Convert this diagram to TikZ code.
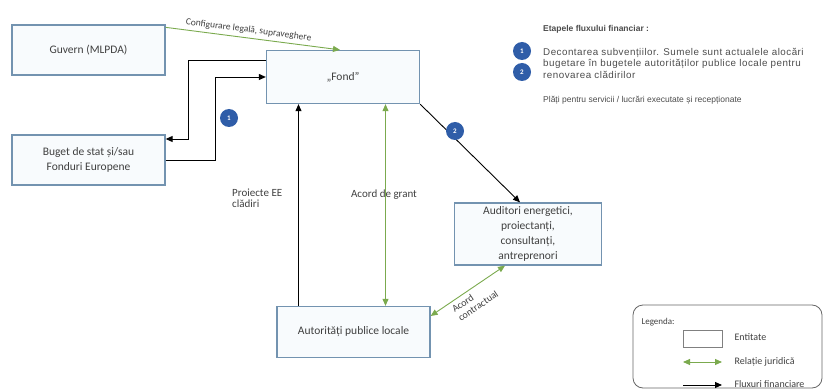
\documentclass[tikz,border=0pt]{standalone}
\usepackage{fontspec}
\setmainfont{Carlito}
\newfontfamily\arialfont{Liberation Sans}
\newfontfamily\arialwide[LetterSpace=5]{Liberation Sans}
\usetikzlibrary{arrows.meta, positioning, calc}

\definecolor{boxblue}{HTML}{7393B0}
\definecolor{boxfill}{HTML}{F8FBFD}
\definecolor{jurgreen}{HTML}{7BAA4E}
\definecolor{badgeblue}{HTML}{2F5DA8}

\begin{document}
\begin{tikzpicture}[x=1pt, y=-1pt, >={Triangle[length=7pt, width=6pt]},
  entity/.style={draw=boxblue, fill=boxfill, line width=1.3pt,
                 minimum width=153pt, minimum height=50pt, align=center,
                 font=\fontsize{11.5}{15}\selectfont, text=black!75},
  fin/.style={->, line width=0.9pt},
  jur/.style={<->, line width=0.9pt, color=jurgreen},
  badge/.style={circle, fill=badgeblue, text=white, minimum size=18pt,
                inner sep=0pt, font=\fontsize{7}{8}\selectfont\bfseries},
  lbl/.style={font=\fontsize{11}{11}\selectfont, text=black!75},
  legtext/.style={font=\fontsize{10}{10}\selectfont, text=black!75, anchor=west},
  note/.style={font=\arialfont\fontsize{8.5}{11.5}\selectfont, text=black!70,
               anchor=west, align=left, inner sep=0pt}]
  \useasboundingbox (0,0) rectangle (827,390);

  % Entities
  \node[entity] (guvern) at (88.5,50) {Guvern (MLPDA)};
  \node[entity, minimum height=53pt] (fond) at (343,77) {„Fond”};
  \node[entity] (buget) at (88.5,160) {Buget de stat și/sau\\Fonduri Europene};
  \node[entity, minimum width=147pt, minimum height=62pt] (auditori) at (528,234)
    {Auditori energetici,\\proiectanți,\\consultanți,\\antreprenori};
  \node[entity, minimum height=51pt] (autoritati) at (353.5,332)
    {Autorități publice locale};

  % Legal relations
  \draw[->, line width=0.9pt, color=jurgreen] ([yshift=-3pt]guvern.north east)
    -- ([xshift=-3pt]fond.north)
    node[pos=0.47, above, sloped, lbl, font=\fontsize{9.5}{10}\selectfont]
    {Configurare legală, supraveghere};
  \draw[jur] ([xshift=32pt]fond.south -| autoritati.north)
    -- ([xshift=32pt]autoritati.north);
  \draw[jur] ([yshift=16pt]autoritati.east) -- ([xshift=-23pt]auditori.south)
    node[midway, below, sloped, lbl, font=\fontsize{10}{11}\selectfont, align=left]
    {Acord\\contractual};

  % Financial flows
  \draw[fin] ([yshift=17pt]fond.west) -- ++(-77,0) |- ([yshift=21pt]buget.east);
  \draw[fin] (buget.east) -- ++(50,0) |- (fond.west);
  \draw[fin] ([xshift=-55pt]autoritati.north)
    -- ([xshift=-55pt]fond.south -| autoritati.north);
  \draw[fin] (fond.south east) -- ([xshift=-8pt]auditori.north);

  % Labels and badges
  \node[lbl, anchor=north west, align=left, inner sep=0pt] (proiecte) at (232,189)
    {Proiecte EE\\clădiri};
  \node[lbl] (grant) at (384,195) {Acord de grant};
  \node[badge] (b1) at (229,118) {1};
  \node[badge] (b2) at (455,131) {2};

  % Stages of the financial flow
  \node[note, font=\arialfont\fontsize{8.5}{11.5}\selectfont\bfseries] (etape)
    at (543,29) {Etapele fluxului financiar :};
  \node[badge] (s1) at (522,51) {1};
  \node[badge] (s2) at (522,72) {2};
  \node[note, font=\arialwide\fontsize{9.8}{11.5}\selectfont] (pas1) at (543,63)
    {Decontarea subvențiilor. Sumele sunt actualele alocări\\
     bugetare în bugetele autorităților publice locale pentru\\
     renovarea clădirilor};
  \node[note] (pas2) at (543,100)
    {Plăți pentru servicii / lucrări executate și recepționate};

  % Legend
  \draw[black!60, line width=0.8pt, rounded corners=10pt] (633,305) rectangle (822,388);
  \node[legtext, font=\fontsize{9}{9}\selectfont] (legenda) at (638,322) {Legenda:};
  \node[draw=black!50, minimum width=39pt, minimum height=17pt, inner sep=0pt] (legbox)
    at (702.5,338.5) {};
  \coordinate (gl) at (683,362);
  \coordinate (gr) at (722,362);
  \coordinate (fl) at (683,385);
  \coordinate (fr) at (722,385);
  \draw[jur] (gl) -- (gr);
  \draw[fin] (fl) -- (fr);
  \foreach \y/\t/\n in {337/Entitate/le, 362/Relație juridică/lr, 384/Fluxuri financiare/lf} {
    \node[legtext] (\n) at (731,\y) {\t};
  }
\end{tikzpicture}
\end{document}
